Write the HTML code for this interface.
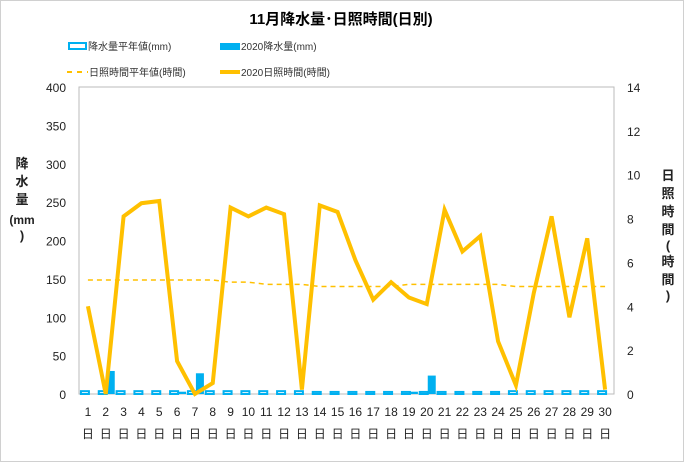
<!DOCTYPE html>
<html><head><meta charset="utf-8"><style>
body{margin:0;background:#fff;font-family:"Liberation Sans","Noto Sans CJK JP",sans-serif}
</style></head><body>
<svg id="c" width="700" height="462" xmlns="http://www.w3.org/2000/svg" font-family="Liberation Sans, Noto Sans CJK JP, sans-serif">
<rect x="0.5" y="0.5" width="683" height="461" fill="#fff" stroke="#d0d0d0"/>
<text x="341" y="24" text-anchor="middle" font-size="15" font-weight="bold">11月降水量･日照時間(日別)</text>
<g font-size="10" fill="#333">
<rect x="69" y="43" width="17" height="6" fill="#fff" stroke="#00b0f0" stroke-width="2"/>
<text x="88" y="50">降水量平年値(mm)</text>
<rect x="220" y="43" width="20" height="7" fill="#00b0f0"/>
<text x="241" y="50">2020降水量(mm)</text>
<line x1="67" y1="72" x2="88" y2="72" stroke="#ffc000" stroke-width="2" stroke-dasharray="5,5"/>
<text x="89" y="76">日照時間平年値(時間)</text>
<line x1="220" y1="72" x2="240" y2="72" stroke="#ffc000" stroke-width="4"/>
<text x="241" y="76">2020日照時間(時間)</text>
</g>
<rect x="79" y="87" width="535" height="307" fill="none" stroke="#bbb"/>
<g id="yl" font-size="12" fill="#222" text-anchor="end"></g>
<g id="yr" font-size="12" fill="#222" text-anchor="start"></g>
<g id="xl" font-size="12" fill="#222" text-anchor="middle"></g>
<g id="bars"></g>
<g id="lines"></g>
<text font-size="13" font-weight="bold" fill="#222" text-anchor="middle"><tspan x="22" y="168">降</tspan><tspan x="22" y="186">水</tspan><tspan x="22" y="204">量</tspan><tspan x="22" y="224" font-size="12">(mm</tspan><tspan x="22" y="240">)</tspan></text>
<text font-size="13" font-weight="bold" fill="#222" text-anchor="middle"><tspan x="668" y="180">日</tspan><tspan x="668" y="198">照</tspan><tspan x="668" y="216">時</tspan><tspan x="668" y="234">間</tspan><tspan x="668" y="250">(</tspan><tspan x="668" y="266">時</tspan><tspan x="668" y="284">間</tspan><tspan x="668" y="300">)</tspan></text>
</svg>
<script>
const days=[1,2,3,4,5,6,7,8,9,10,11,12,13,14,15,16,17,18,19,20,21,22,23,24,25,26,27,28,29,30];
const precipNormal=[5,5,5,5,5,5,5,5,5,5,5,5,5,4,4,4,4,4,4,4,4,4,4,4,5,5,5,5,5,5];
const precip2020=[0,30,0,0,0,3,27,0,0,0,0,0,0,0,0,0,0,0,3,24,0,0,0,0,0,0,0,0,0,0];
const sunNormal=[5.2,5.2,5.2,5.2,5.2,5.2,5.2,5.2,5.1,5.1,5.0,5.0,5.0,4.9,4.9,4.9,4.9,4.9,5.0,5.0,5.0,5.0,5.0,5.0,4.9,4.9,4.9,4.9,4.9,4.9];
const sun2020=[4.0,0,8.1,8.7,8.8,1.5,0,0.5,8.5,8.1,8.5,8.2,0.2,8.6,8.3,6.1,4.3,5.1,4.4,4.1,8.4,6.5,7.2,2.4,0.4,4.6,8.1,3.5,7.1,0.2];
const leftTicks=[0,50,100,150,200,250,300,350,400];
const rightTicks=[0,2,4,6,8,10,12,14];
const NS="http://www.w3.org/2000/svg";
const X0=79,W=535,Y0=394,H=307;
const bw=W/days.length;
const xc=i=>X0+bw*(i+0.5);
const yL=v=>Y0-v/400*H;
const yR=v=>Y0-v/14*H;
function mk(t,a,p){const e=document.createElementNS(NS,t);for(const k in a)e.setAttribute(k,a[k]);p.appendChild(e);return e;}
const yl=document.getElementById('yl'),yr=document.getElementById('yr'),xl=document.getElementById('xl'),bars=document.getElementById('bars'),lines=document.getElementById('lines');
leftTicks.forEach(v=>{const t=mk('text',{x:66,y:yL(v)+5},yl);t.textContent=v;

});
rightTicks.forEach(v=>{const t=mk('text',{x:627,y:yR(v)+5},yr);t.textContent=v;

});
days.forEach((d,i)=>{const t=mk('text',{x:xc(i),y:416},xl);t.textContent=d;


const u=mk('text',{x:xc(i),y:438},xl);u.textContent='日';

});
days.forEach((d,i)=>{
const h=yL(0)-yL(precipNormal[i]);
const r=mk('rect',{x:xc(i)-7,y:yL(precipNormal[i])+1,width:8,height:Math.max(h-1,1),fill:'#fff',stroke:'#00b0f0','stroke-width':2},bars);


if(precip2020[i]>0){const b=mk('rect',{x:xc(i)+1,y:yL(precip2020[i]),width:8,height:yL(0)-yL(precip2020[i]),fill:'#00b0f0'},bars);

}
});
const pn=mk('polyline',{points:sunNormal.map((v,i)=>xc(i)+','+yR(v)).join(' '),fill:'none',stroke:'#ffc000','stroke-width':1.5,'stroke-dasharray':'5,4'},lines);


const ps=mk('polyline',{points:sun2020.map((v,i)=>xc(i)+','+yR(v)).join(' '),fill:'none',stroke:'#ffc000','stroke-width':4,'stroke-linejoin':'miter'},lines);


</script>
</body></html>
